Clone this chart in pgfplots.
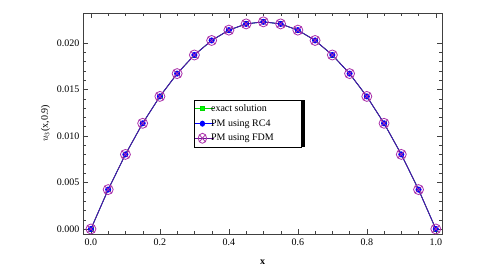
\documentclass[border=0pt]{standalone}
\usepackage{pgfplots}
\pgfplotsset{compat=1.18}
\usepackage{fontspec}
\setmainfont{Liberation Serif}
\usetikzlibrary{shadows}
\definecolor{fdm}{RGB}{170,50,170}
\definecolor{lin}{RGB}{100,20,150}
\begin{document}
\fontsize{10}{12}\selectfont
\begin{tikzpicture}
\path[use as bounding box] (-83pt,-37pt) rectangle (394pt,234pt);
\begin{axis}[
  scale only axis, width=359pt, height=221pt,
  xmin=-0.023, xmax=1.018, ymin=-0.00054, ymax=0.0232,
  axis line style={black!75},
  tick style={black!75},
  xtick={0,0.2,0.4,0.6,0.8,1.0},
  ytick={0,0.005,0.010,0.015,0.020},
  minor x tick num=3, minor y tick num=4,
  tick align=inside,
  major tick length=5pt, minor tick length=3pt,
  xticklabel style={/pgf/number format/fixed,/pgf/number format/fixed zerofill,/pgf/number format/precision=1, yshift=-1pt},
  yticklabel style={/pgf/number format/fixed,/pgf/number format/fixed zerofill,/pgf/number format/precision=3},
  scaled y ticks=false,
  /pgf/number format/assume math mode=true,
  xlabel={\textbf{x}}, ylabel={$u_3$(x,0.9)},
  xlabel style={yshift=-8pt},
  legend style={at={(0.458,0.5)}, anchor=center, draw=black, fill=white,
    font=\fontsize{10}{12}\selectfont, inner xsep=1pt, inner ysep=2.5pt, row sep=2.5pt,
    nodes={inner xsep=1pt},
    drop shadow={shadow xshift=4pt, shadow yshift=0pt, opacity=1, fill=black}},
  legend cell align=left,
  legend image post style={xscale=0.85},
]
\addplot[green!85!black, line width=0.8pt, mark=square*, mark size=2pt, mark options={fill=green}] coordinates {
(0,0) (0.05,0.00423) (0.1,0.00801) (0.15,0.01135) (0.2,0.01424) (0.25,0.01669) (0.3,0.01869) (0.35,0.02025) (0.4,0.02136) (0.45,0.02203) (0.5,0.02225)
(0.55,0.02203) (0.6,0.02136) (0.65,0.02025) (0.7,0.01869) (0.75,0.01669) (0.8,0.01424) (0.85,0.01135) (0.9,0.00801) (0.95,0.00423) (1.0,0)};
\addplot[blue, line width=0.8pt, mark=*, mark size=2.6pt, mark options={fill=blue}] coordinates {
(0,0) (0.05,0.00423) (0.1,0.00801) (0.15,0.01135) (0.2,0.01424) (0.25,0.01669) (0.3,0.01869) (0.35,0.02025) (0.4,0.02136) (0.45,0.02203) (0.5,0.02225)
(0.55,0.02203) (0.6,0.02136) (0.65,0.02025) (0.7,0.01869) (0.75,0.01669) (0.8,0.01424) (0.85,0.01135) (0.9,0.00801) (0.95,0.00423) (1.0,0)};
\addplot[lin, line width=0.7pt, mark=otimes, mark size=5pt, mark options={draw=fdm, line width=0.8pt}] coordinates {
(0,0) (0.05,0.00423) (0.1,0.00801) (0.15,0.01135) (0.2,0.01424) (0.25,0.01669) (0.3,0.01869) (0.35,0.02025) (0.4,0.02136) (0.45,0.02203) (0.5,0.02225)
(0.55,0.02203) (0.6,0.02136) (0.65,0.02025) (0.7,0.01869) (0.75,0.01669) (0.8,0.01424) (0.85,0.01135) (0.9,0.00801) (0.95,0.00423) (1.0,0)};
\legend{\makebox[88pt][l]{exact solution}, PM using RC4, PM using FDM}
\end{axis}
\end{tikzpicture}
\end{document}
